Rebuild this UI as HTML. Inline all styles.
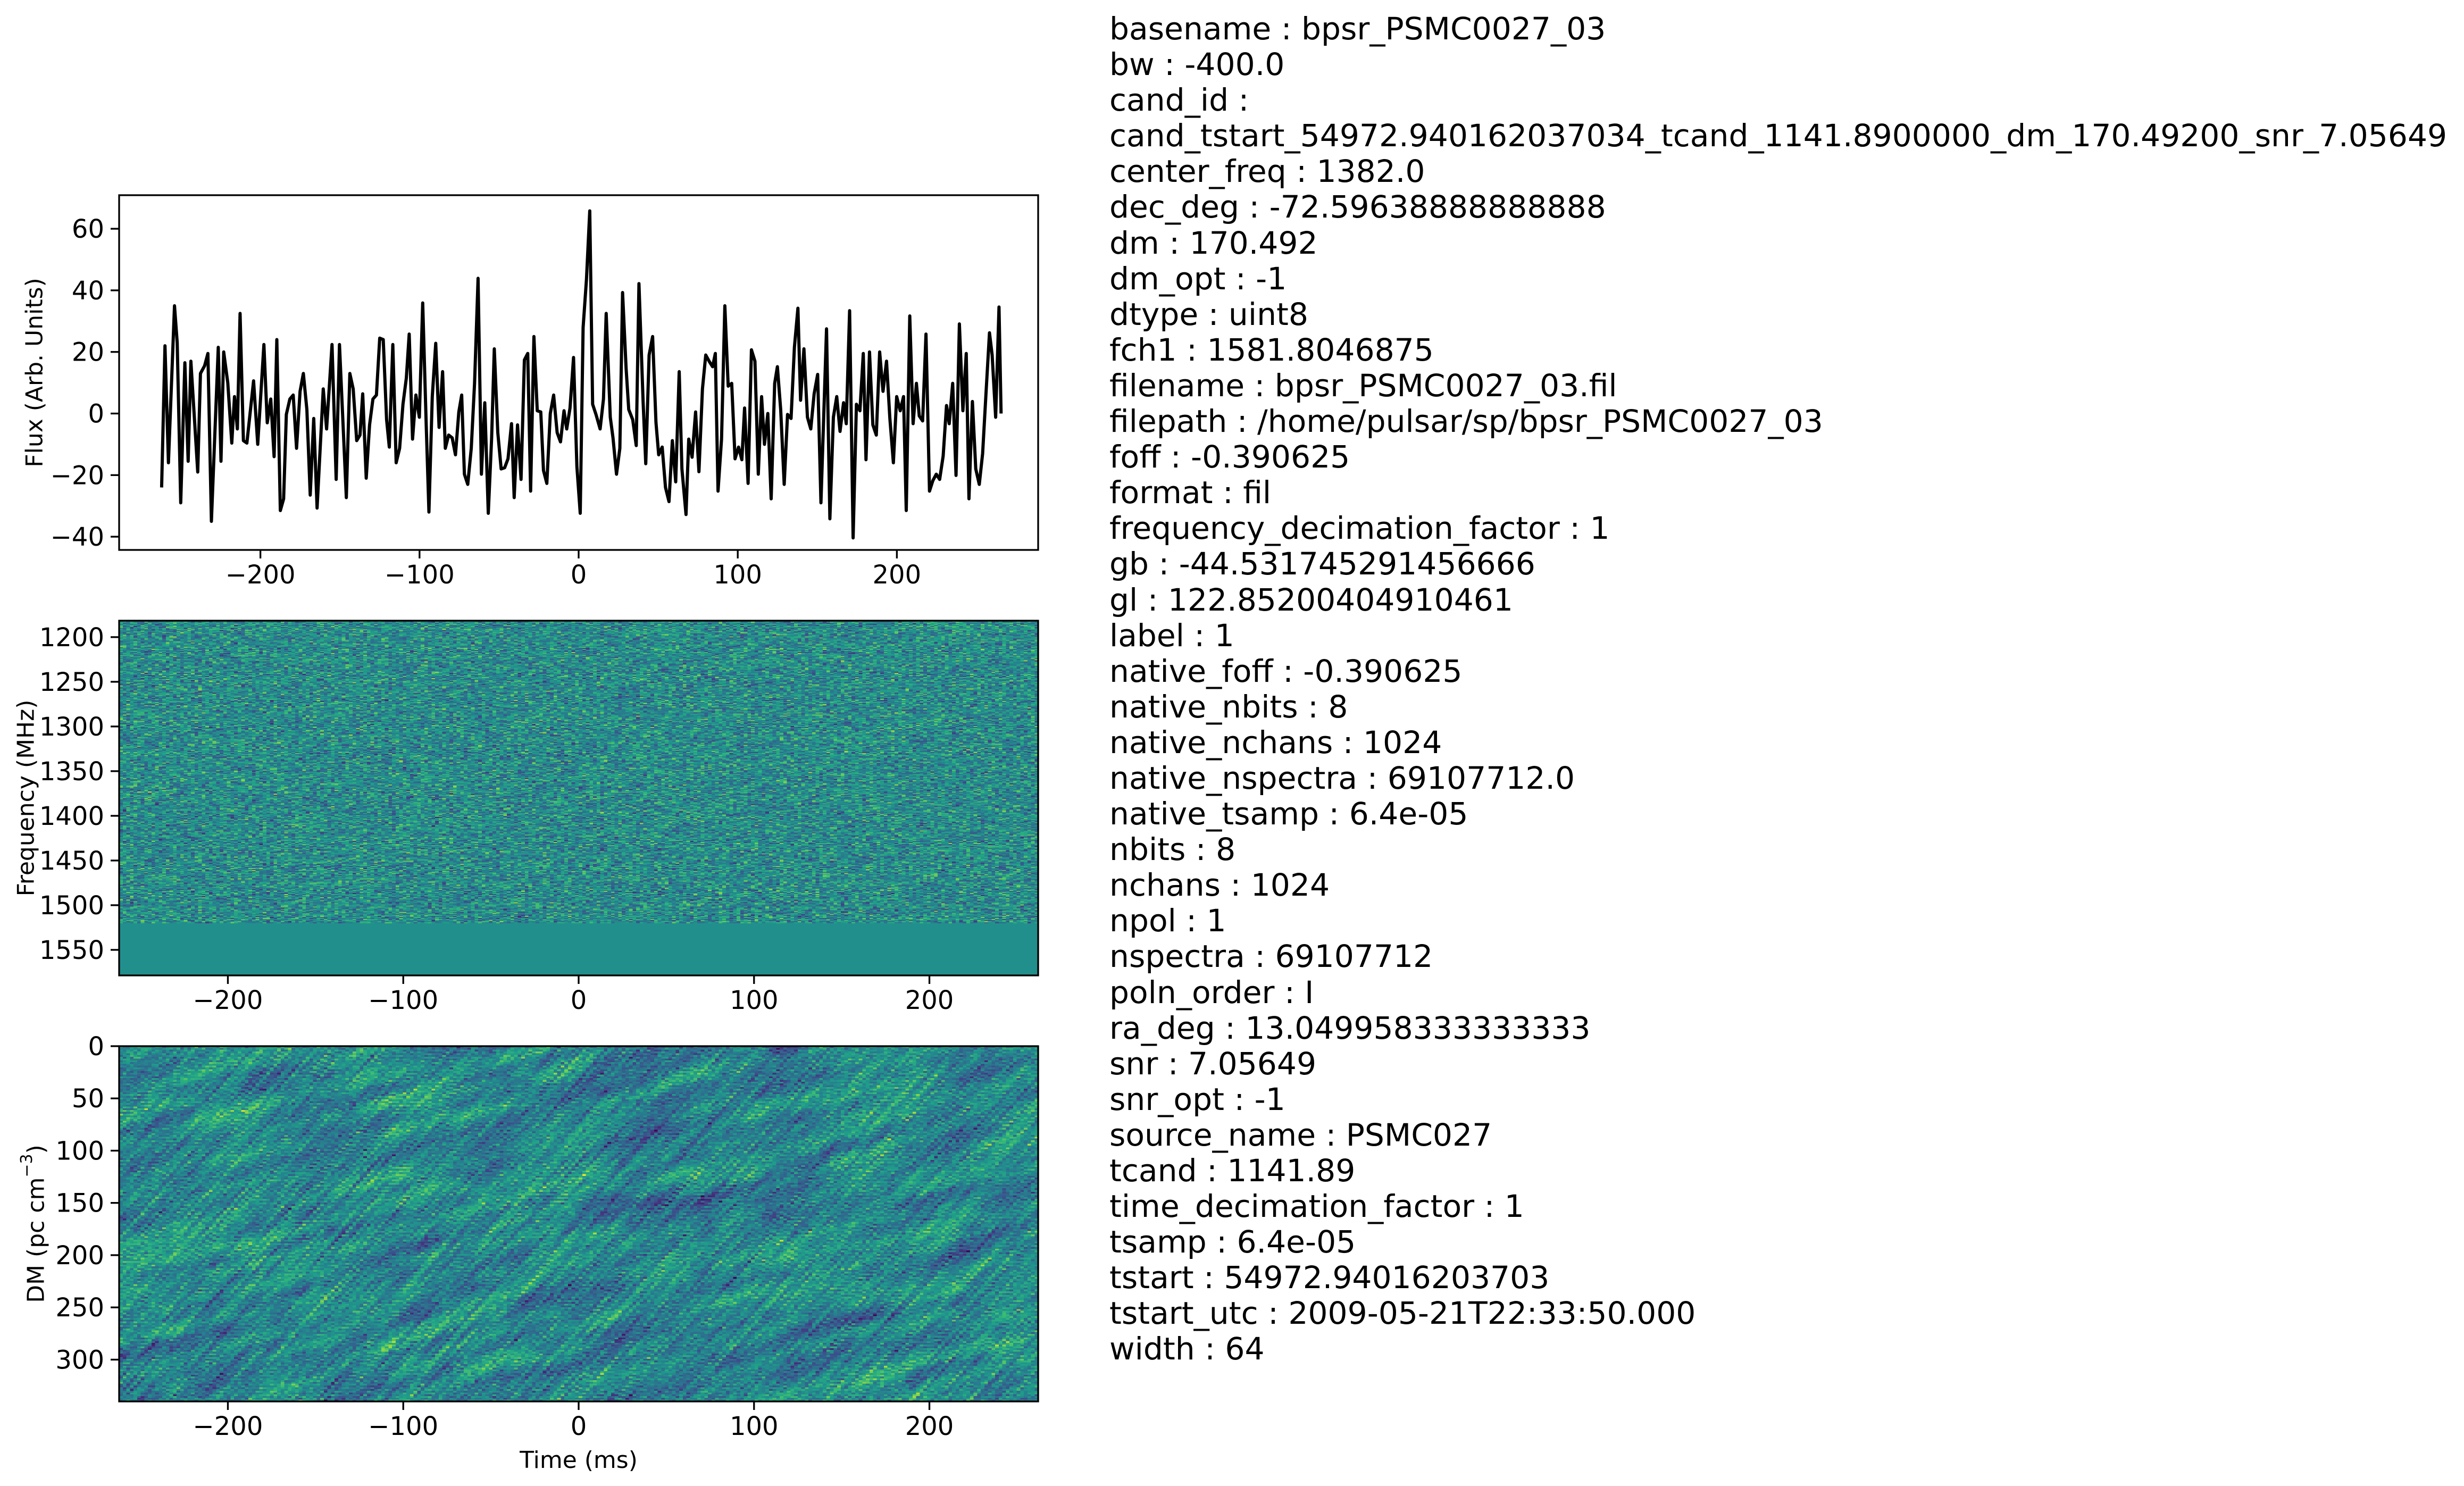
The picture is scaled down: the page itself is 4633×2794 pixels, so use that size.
<!DOCTYPE html>
<html><head><meta charset="utf-8">
<style>
html,body{margin:0;padding:0;background:#fff;}
#root{position:relative;width:4633px;height:2794px;overflow:hidden;background:#fff;}
canvas{position:absolute;image-rendering:pixelated;}
svg{position:absolute;left:0;top:0;}
#meta{position:absolute;left:2086px;top:21px;font-family:"DejaVu Sans","Liberation Sans",sans-serif;font-size:58.3px;line-height:67.1px;color:#000;white-space:pre;}
</style></head>
<body>
<div id="root">
<canvas id="freqmap" width="256" height="340" style="left:224px;top:1167px;width:1728px;height:667px;"></canvas>
<canvas id="dmmap" width="256" height="200" style="left:224px;top:1967px;width:1728px;height:668px;"></canvas>
<svg id="chart" width="4633" height="2794" font-family="DejaVu Sans, Liberation Sans, sans-serif"></svg>
<div id="meta"><div>basename : bpsr_PSMC0027_03</div><div>bw : -400.0</div><div>cand_id :</div><div>cand_tstart_54972.940162037034_tcand_1141.8900000_dm_170.49200_snr_7.05649</div><div>center_freq : 1382.0</div><div>dec_deg : -72.59638888888888</div><div>dm : 170.492</div><div>dm_opt : -1</div><div>dtype : uint8</div><div>fch1 : 1581.8046875</div><div>filename : bpsr_PSMC0027_03.fil</div><div>filepath : /home/pulsar/sp/bpsr_PSMC0027_03</div><div>foff : -0.390625</div><div>format : fil</div><div>frequency_decimation_factor : 1</div><div>gb : -44.531745291456666</div><div>gl : 122.85200404910461</div><div>label : 1</div><div>native_foff : -0.390625</div><div>native_nbits : 8</div><div>native_nchans : 1024</div><div>native_nspectra : 69107712.0</div><div>native_tsamp : 6.4e-05</div><div>nbits : 8</div><div>nchans : 1024</div><div>npol : 1</div><div>nspectra : 69107712</div><div>poln_order : I</div><div>ra_deg : 13.049958333333333</div><div>snr : 7.05649</div><div>snr_opt : -1</div><div>source_name : PSMC027</div><div>tcand : 1141.89</div><div>time_decimation_factor : 1</div><div>tsamp : 6.4e-05</div><div>tstart : 54972.94016203703</div><div>tstart_utc : 2009-05-21T22:33:50.000</div><div>width : 64</div></div>
</div>
<script>
// ---- data ----
const fluxValues = [-24,22,-16,35,23,-29,16.5,-15.5,17,-19,13,15.5,19.5,-35,21.5,-15.5,20,10,-9.6,5.5,-5,32.5,-8.8,-9.6,10.6,-10,22.4,-3,4.7,-14,24,-31.5,-27.7,-0.3,4.7,6,-11.3,7.2,13,1.3,-26.5,-1.6,-30.7,8,-5,22.4,-21.4,22.4,-27.3,13,8,-8.8,-7,6.4,-21,-3.7,4.7,6,24.5,24,-2,-10.9,22.4,-16,-11.3,3,11.5,25.8,-8.3,6,-1.2,35.9,-3.7,-32,5.5,22.8,-4.5,13.6,-11.3,-7,-7.9,-13.4,0.5,6,-19.7,-23,-11.3,9.8,43.9,-19.7,3.5,-32.4,-7.9,21,-6.2,-18,-17.6,-14.7,-3.3,-27.3,-3.7,-21.4,17.4,19.5,-25.2,25,0.9,0.5,-18.5,-22.7,0,6,-6.2,-9.2,0.9,-5,1.8,18.2,-17.2,-32.4,27.9,43.5,65.8,3,-0.3,-5,4.7,32.5,-1.2,-7.9,-19.7,-11.3,39.3,14.8,1.3,-2,-10.4,42.2,3.9,-16.3,19,25,-2.9,-13.4,-10.9,-24,-28.6,-8.8,-22.2,13.6,-18,-32.8,-8.3,-14.2,0.5,-18.9,8,19,17,15.2,19.5,-25.2,-8.3,35,8.9,9.8,-14.7,-10.9,-15,1.8,-22.7,20.7,17,-19.7,5.5,-10,0,-27.7,9.8,15.2,1.3,-23,-0.3,-1.6,21.5,34.2,4.3,21,-1.2,-5,6.4,12.7,-29,27.5,-34.2,-1.2,5.5,-5.8,3.5,-3.3,33.4,-40.4,3,0.9,19.5,-15,20,-3.7,-7,20,7.2,17,-1.6,-16,5.5,0.9,5.5,-31.5,31.7,-3.3,9.8,-0.8,-2.4,25.8,-25.2,-21.8,-19.7,-21.4,-13.8,2.6,-3.3,9.8,-20.1,29.1,0.9,19.5,-27.7,3.9,-18,-23,-13,6.4,26.2,19,-1.2,34.6,0];
const fluxTimes = [-262.1,-260.0,-257.8,-254.0,-252.3,-250.1,-247.5,-245.4,-243.7,-239.4,-237.7,-235.1,-233.0,-230.8,-226.5,-224.8,-223.1,-220.5,-218.0,-216.3,-214.5,-212.8,-210.7,-208.5,-204.3,-201.7,-197.8,-195.7,-193.5,-191.4,-189.7,-187.5,-185.4,-183.7,-181.5,-179.4,-177.3,-175.1,-173.0,-170.8,-168.7,-166.5,-164.4,-160.5,-158.4,-155.0,-152.4,-150.3,-146.0,-143.8,-141.7,-139.5,-137.4,-135.7,-133.5,-131.4,-129.3,-127.1,-125.0,-122.8,-120.7,-119.0,-116.8,-114.7,-112.5,-110.4,-108.3,-106.5,-104.4,-102.3,-100.1,-98.0,-95.8,-94.1,-92.0,-89.8,-87.7,-85.5,-83.8,-81.7,-79.5,-77.4,-75.3,-73.5,-71.8,-69.7,-67.5,-65.4,-63.2,-61.1,-59.0,-56.8,-54.7,-53.0,-50.8,-48.7,-46.5,-44.4,-42.2,-40.5,-38.4,-36.2,-34.1,-32.0,-30.2,-28.1,-26.0,-23.8,-22.1,-20.0,-17.8,-15.7,-13.5,-11.4,-9.2,-7.5,-5.4,-3.2,-1.1,1.0,2.8,4.9,7.0,8.8,10.9,13.5,15.6,17.3,19.9,21.6,23.8,25.9,27.6,29.8,31.5,34.0,36.2,37.9,40.5,42.2,44.3,46.5,48.6,50.3,52.5,54.6,56.8,58.9,61.0,63.2,64.9,67.5,69.2,71.3,73.5,75.6,77.8,79.9,82.0,84.2,85.9,87.6,89.8,91.9,94.0,96.2,98.3,100.5,102.6,104.3,106.5,108.6,110.8,112.9,115.0,116.8,118.9,121.0,123.2,124.9,127.0,129.2,131.3,133.5,135.6,137.8,139.5,141.6,143.8,145.9,148.0,150.2,152.3,155.8,157.9,160.1,162.2,164.3,166.5,168.2,170.3,172.5,174.6,176.8,178.9,180.6,182.8,184.9,187.1,189.2,191.3,193.5,195.6,197.8,199.9,202.1,204.2,205.9,208.1,210.2,212.3,214.1,216.2,218.3,220.5,222.6,224.8,226.9,229.1,231.2,232.9,235.1,237.2,239.3,241.5,243.6,245.3,247.5,249.6,251.8,253.9,256.0,258.2,259.9,262.1,264.2,265.5];
const fluxTicks = [-40,-20,0,20,40,60];
const timeTicks = [-200,-100,0,100,200];
const freqTicks = [1200,1250,1300,1350,1400,1450,1500,1550];
const dmTicks = [0,50,100,150,200,250,300];
const freqRange = [1181.6, 1578.6];
const flaggedFreqStart = 1520;
const dmRange = [0, 340];

// ---- geometry ----
const NS='http://www.w3.org/2000/svg';
const svg=document.getElementById('chart');
const L=224,R=1952;
const P1={t:367,b:1034}, P2={t:1167,b:1834}, P3={t:1967,b:2635};
const xTop=v=>1088+(v/288.8)*864;
const xBot=v=>1088+(v/262)*864;
const yFlux=v=>P1.t+(70.9-v)/(70.9+44.3)*(P1.b-P1.t);
const yFreq=v=>P2.t+(v-freqRange[0])/(freqRange[1]-freqRange[0])*(P2.b-P2.t);
const yDM=v=>P3.t+(v-dmRange[0])/(dmRange[1]-dmRange[0])*(P3.b-P3.t);

function mk(tag,attrs){const e=document.createElementNS(NS,tag);for(const k in attrs)e.setAttribute(k,attrs[k]);svg.appendChild(e);return e;}

// flux line
let d='';
const nPts=Math.min(fluxValues.length,fluxTimes.length);
for(let i=0;i<nPts;i++){d+=(i?'L':'M')+xTop(fluxTimes[i]).toFixed(1)+' '+yFlux(fluxValues[i]).toFixed(1);}
const line=mk('path',{d:d,fill:'none',stroke:'#000','stroke-width':6,'stroke-linejoin':'round'});



function frame(P,name){const r=mk('rect',{x:L,y:P.t,width:R-L,height:P.b-P.t,fill:'none',stroke:'#000','stroke-width':3.3});

}
frame(P1,'flux-axes-frame');frame(P2,'frequency-axes-frame');frame(P3,'dm-axes-frame');

function xticks(P,fx,pre){timeTicks.forEach(v=>{const x=fx(v);
const tk=mk('line',{x1:x,x2:x,y1:P.b,y2:P.b+16,stroke:'#000','stroke-width':3.3});


const tx=mk('text',{x:x,y:P.b+63,'font-size':48,'text-anchor':'middle'});tx.textContent=(v<0?'\u2212':'')+Math.abs(v);

});}
xticks(P1,xTop,'flux');xticks(P2,xBot,'frequency');xticks(P3,xBot,'dm');

function yticks(vals,fy,pre){vals.forEach(v=>{const y=fy(v);
const tk=mk('line',{x1:L-16,x2:L,y1:y,y2:y,stroke:'#000','stroke-width':3.3});


const tx=mk('text',{x:L-28,y:y+17,'font-size':48,'text-anchor':'end'});tx.textContent=(v<0?'\u2212':'')+Math.abs(v);

});}
yticks(fluxTicks,yFlux,'flux');yticks(freqTicks,yFreq,'frequency');yticks(dmTicks,yDM,'dm');

function ylabel(txt,x,P,name){const cy=(P.t+P.b)/2;const t=mk('text',{x:x,y:cy,'font-size':44,'text-anchor':'middle',transform:'rotate(-90 '+x+' '+cy+')','dominant-baseline':'central'});t.innerHTML=txt;

}
ylabel('Flux (Arb. Units)',65,P1,'flux-y-axis-title');
ylabel('Frequency (MHz)',49,P2,'frequency-y-axis-title');
ylabel('DM (pc cm<tspan baseline-shift="super" font-size="30">\u22123</tspan>)',68,P3,'dm-y-axis-title');
const xl=mk('text',{x:1088,y:2760,'font-size':44,'text-anchor':'middle'});xl.textContent='Time (ms)';



// ---- heatmaps (texture) ----
const vstops=[[68,1,84],[72,40,120],[62,74,137],[49,104,142],[38,130,142],[31,158,137],[53,183,121],[110,206,88],[181,222,43],[253,231,37]];
function viridis(t){t=Math.max(0,Math.min(1,t))*9;const i=Math.min(8,Math.floor(t)),f=t-i;const a=vstops[i],b=vstops[i+1];return [a[0]+(b[0]-a[0])*f,a[1]+(b[1]-a[1])*f,a[2]+(b[2]-a[2])*f];}
function hash(i,j,s){let h=(i*374761393+j*668265263+s*2147483647)|0;h=(h^(h>>>13))*1274126177|0;h=h^(h>>>16);return ((h>>>0)%100000)/100000;}
function gauss(i,j,s){return (hash(i,j,s)+hash(i,j,s+7)+hash(i,j,s+13)-1.5)*2;}
(function(){const c=document.getElementById('freqmap'),g=c.getContext('2d'),W=c.width,H=c.height,img=g.createImageData(W,H);
const bandRow=Math.round((flaggedFreqStart-freqRange[0])/(freqRange[1]-freqRange[0])*H);
for(let y=0;y<H;y++)for(let x=0;x<W;x++){let col;
if(y>=bandRow)col=[33,144,141];else col=viridis(0.48+0.14*gauss(x,y,1));
const k=(y*W+x)*4;img.data[k]=col[0];img.data[k+1]=col[1];img.data[k+2]=col[2];img.data[k+3]=255;}
g.putImageData(img,0,0);})();
(function(){const c=document.getElementById('dmmap'),g=c.getContext('2d'),W=c.width,H=c.height,img=g.createImageData(W,H);
for(let y=0;y<H;y++)for(let x=0;x<W;x++){let s=0;for(let k=-6;k<=6;k++){const xx=x+k,yy=y-Math.round(k*2.2);s+=gauss(xx+600,yy+600,3);}
s/=Math.sqrt(13);let b=0;for(let k=-3;k<=3;k++){b+=gauss(Math.floor((x+k*3)/6)+900,Math.floor((y-k*2)/8)+900,9);}b/=Math.sqrt(7);
const v=0.46+0.10*s+0.05*b+0.05*gauss(x,y,5);const col=viridis(v);
const k=(y*W+x)*4;img.data[k]=col[0];img.data[k+1]=col[1];img.data[k+2]=col[2];img.data[k+3]=255;}
g.putImageData(img,0,0);})();
</script>
</body></html>
